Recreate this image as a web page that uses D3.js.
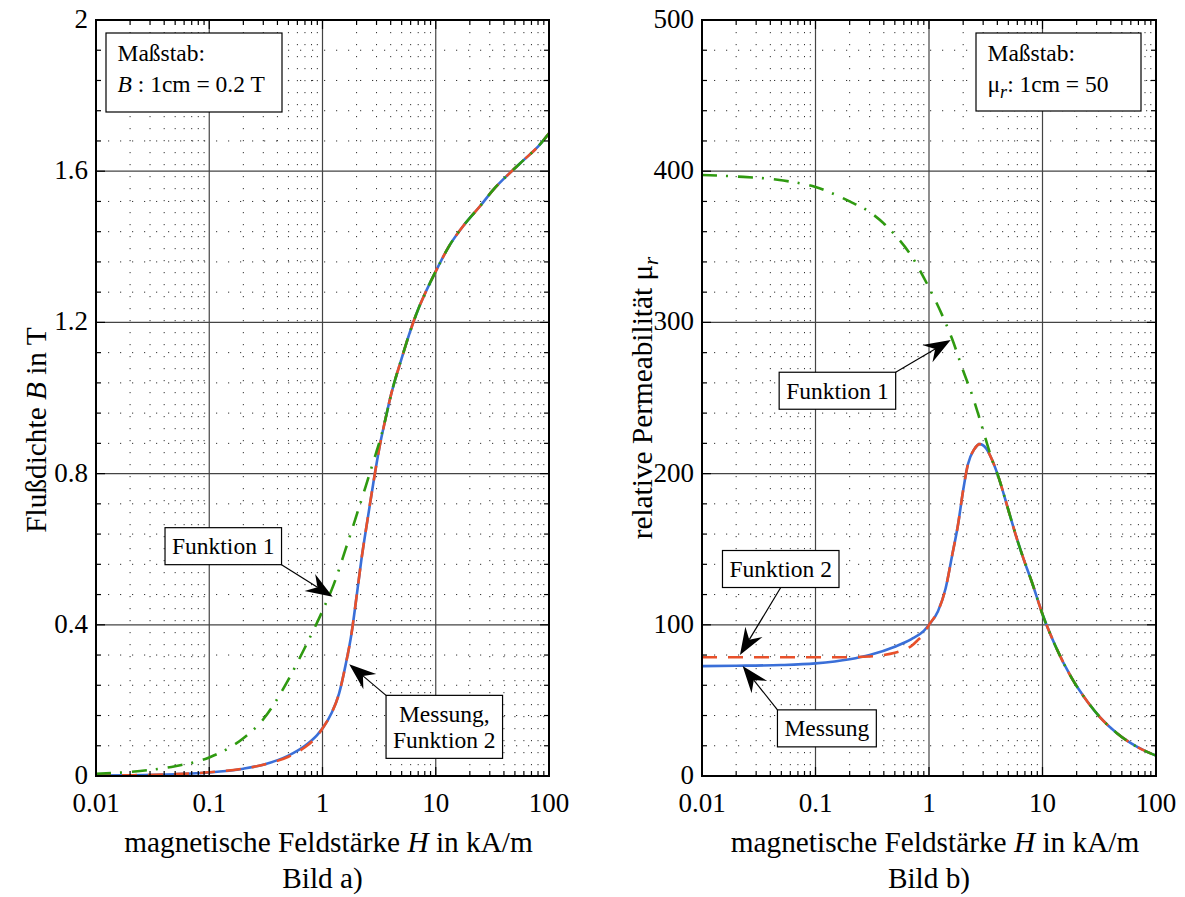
<!DOCTYPE html>
<html>
<head>
<meta charset="utf-8">
<script src="https://cdn.jsdelivr.net/npm/d3@7"></script>
<style>
  body { margin: 0; background: #fff; }
  svg text { font-family: 'Liberation Serif', 'Times New Roman', Tinos, 'Nimbus Roman', 'DejaVu Serif', serif; fill: #000; }
</style>
</head>
<body>
<svg width="1185" height="897" font-family="Liberation Serif, DejaVu Serif, serif"></svg>
<script>
// ---- data ----
const hTicks = [0.01, 0.1, 1, 10, 100];
const bTicks = [0, 0.4, 0.8, 1.2, 1.6, 2];
const muTicks = [0, 100, 200, 300, 400, 500];

// Messung (measured)
const hMess = [0.01, 0.02, 0.05, 0.1, 0.2, 0.3, 0.5, 0.7, 0.9, 1, 1.2, 1.4, 1.6, 1.8, 2, 2.2, 2.5, 2.8, 3.2, 3.6,
               4, 5, 6, 7, 8, 10, 13, 18, 25, 32, 45, 60, 80, 100];
const bMess = [0.001, 0.0018, 0.0046, 0.0094, 0.0194, 0.030, 0.054, 0.080, 0.109, 0.126, 0.166, 0.218, 0.294, 0.375,
               0.475, 0.570, 0.679, 0.772, 0.873, 0.945, 1.005, 1.105, 1.180, 1.235, 1.275, 1.335, 1.400, 1.460,
               1.510, 1.550, 1.595, 1.630, 1.665, 1.700];
const muMess = [72.7, 72.9, 73.4, 74.5, 77.2, 80, 85.5, 90.5, 96, 100, 109, 124, 146, 166, 189, 206, 216, 219.5,
                216.5, 209, 200, 176, 156, 141, 129, 107, 86, 65, 49, 39, 28.5, 21.7, 16.6, 13.5];

// Funktion 2
const hF2 = [0.01, 0.02, 0.05, 0.1, 0.2, 0.3, 0.4, 0.5, 0.6, 0.7, 0.8, 0.9, 1, 1.2, 1.4, 1.6, 1.8, 2, 2.2, 2.5,
             2.8, 3.2, 3.6, 4, 5, 6, 7, 8, 10, 13, 18, 25, 32, 45, 60, 80, 100];
const bF2 = [0.001, 0.002, 0.0049, 0.0099, 0.0198, 0.0296, 0.040, 0.051, 0.063, 0.076, 0.090, 0.106, 0.126,
             0.166, 0.218, 0.294, 0.375, 0.475, 0.570, 0.679, 0.772, 0.873, 0.945, 1.005, 1.105, 1.180, 1.235,
             1.275, 1.335, 1.400, 1.460, 1.510, 1.550, 1.595, 1.630, 1.665, 1.700];
const muF2 = [78.5, 78.5, 78.5, 78.5, 78.6, 79, 80, 81.5, 83.5, 86, 90, 94, 100, 109, 124, 146, 166, 189, 206,
              216, 219.5, 216.5, 209, 200, 176, 156, 141, 129, 107, 86, 65, 49, 39, 28.5, 21.7, 16.6, 13.5];

// Funktion 1
const hF1 = [0.01, 0.02, 0.05, 0.1, 0.2, 0.3, 0.5, 0.7, 1, 1.25, 1.6, 2, 2.4, 2.8, 3.3, 3.6,
             4, 5, 6, 7, 8, 10, 13, 18, 25, 32, 45, 60, 80, 100];
const bF1 = [0.006, 0.011, 0.026, 0.049, 0.100, 0.150, 0.255, 0.340, 0.437, 0.505, 0.600, 0.690, 0.765, 0.830,
             0.900, 0.945, 1.005, 1.105, 1.180, 1.235, 1.275, 1.335, 1.400, 1.460, 1.510, 1.550, 1.595, 1.630,
             1.665, 1.700];
const muF1 = [397.5, 396.5, 394, 389.5, 380, 373, 358, 344, 323, 308, 289, 268, 252, 236, 218, 209,
              200, 176, 156, 141, 129, 107, 86, 65, 49, 39, 28.5, 21.7, 16.6, 13.5];

const svg = d3.select("svg");
const plotTop = 20, plotBottom = 776;

const styles = {
  mess: { color: "#3a6fd8", dash: null },
  f2:   { color: "#e8502a", dash: "15,11" },
  f1:   { color: "#2f9a10", dash: "15,9,2,10" }
};

const panels = [
  {
    left: 96, right: 549, yDomain: [0, 2], yTicks: bTicks, yMinor: d3.range(0, 2.0001, 0.08),
    ylabel: [["Flußdichte ", false], ["B", true], [" in T", false]], ylabelY: 430,
    bild: "Bild a)",
    series: [
      { h: hMess, v: bMess, s: styles.mess },
      { h: hF2, v: bF2, s: styles.f2 },
      { h: hF1, v: bF1, s: styles.f1 }
    ],
    notes: [
      { lines: ["Funktion 1"], h: 0.133, v: 0.608, tipH: 1.23, tipV: 0.474, from: "br" },
      { lines: ["Messung,", "Funktion 2"], h: 11.9, v: 0.13, tipH: 1.72, tipV: 0.2955, from: "tl" }
    ],
    scale: { x: 10, w: 176, h: 79, sym: "B" , rest: " : 1cm = 0.2 T" }
  },
  {
    left: 702, right: 1156, yDomain: [0, 500], yTicks: muTicks, yMinor: d3.range(0, 500.01, 20),
    ylabel: [["relative Permeabilität μ", false], ["r", "sub"]], ylabelY: 398,
    bild: "Bild b)",
    series: [
      { h: hMess, v: muMess, s: styles.mess },
      { h: hF2, v: muF2, s: styles.f2 },
      { h: hF1, v: muF1, s: styles.f1 }
    ],
    notes: [
      { lines: ["Funktion 1"], h: 0.156, v: 254.8, tipH: 1.553, tipV: 288.4, from: "tr" },
      { lines: ["Funktion 2"], h: 0.0494, v: 136.9, tipH: 0.0216, tipV: 80, from: "bm" },
      { lines: ["Messung"], h: 0.126, v: 31.5, tipH: 0.0228, tipV: 72.75, from: "tl" }
    ],
    scale: { x: 274, w: 165, h: 78, sym: "μ", rest: ": 1cm = 50" }
  }
];

function arrow(g, x0, y0, x1, y1) {
  const dx = x1 - x0, dy = y1 - y0;
  const len = Math.sqrt(dx * dx + dy * dy);
  const ux = dx / len, uy = dy / len;
  const px = -uy, py = ux;
  g.append("line")
    .attr("x1", x0).attr("y1", y0)
    .attr("x2", x1 - ux * 18).attr("y2", y1 - uy * 18)
    .attr("stroke", "#000").attr("stroke-width", 1.2);
  const pts = [
    [x1, y1],
    [x1 - ux * 27 + px * 10, y1 - uy * 27 + py * 10],
    [x1 - ux * 18, y1 - uy * 18],
    [x1 - ux * 27 - px * 10, y1 - uy * 27 - py * 10]
  ];
  g.append("polygon").attr("points", pts.map(p => p.join(",")).join(" ")).attr("fill", "#000");
}

panels.forEach((p, pi) => {
  const x = d3.scaleLog().domain([0.01, 100]).range([p.left, p.right]);
  const y = d3.scaleLinear().domain(p.yDomain).range([plotBottom, plotTop]);
  const g = svg.append("g");

  const minorH = [];
  [0.01, 0.1, 1, 10].forEach(d => { for (let k = 2; k <= 9; k++) minorH.push(k * d); });
  const minorV = p.yMinor.filter(v => !p.yTicks.some(t => Math.abs(t - v) < 1e-6));

  // minor grid (dotted)
  g.selectAll(".mgx").data(minorH).enter().append("line")
    .attr("x1", d => x(d)).attr("x2", d => x(d)).attr("y1", plotTop).attr("y2", plotBottom)
    .attr("stroke", "#333").attr("stroke-width", 1).attr("stroke-dasharray", "1.2,10.8");
  g.selectAll(".mgy").data(minorV).enter().append("line")
    .attr("x1", p.left).attr("x2", p.right).attr("y1", d => y(d)).attr("y2", d => y(d))
    .attr("stroke", "#333").attr("stroke-width", 1).attr("stroke-dasharray", "1.2,10.8");

  // major grid
  g.selectAll(".gx").data(hTicks).enter().append("line")
    .attr("x1", d => x(d)).attr("x2", d => x(d)).attr("y1", plotTop).attr("y2", plotBottom)
    .attr("stroke", "#444").attr("stroke-width", 1.2);
  g.selectAll(".gy").data(p.yTicks).enter().append("line")
    .attr("x1", p.left).attr("x2", p.right).attr("y1", d => y(d)).attr("y2", d => y(d))
    .attr("stroke", "#444").attr("stroke-width", 1.2);

  // curves
  const clipId = "clip" + pi;
  svg.append("clipPath").attr("id", clipId).append("rect")
    .attr("x", p.left).attr("y", plotTop).attr("width", p.right - p.left).attr("height", plotBottom - plotTop);
  const line = d3.line().x(d => x(d[0])).y(d => y(d[1])).curve(d3.curveMonotoneX);
  p.series.forEach(s => {
    g.append("path")
      .datum(s.h.map((h, i) => [h, s.v[i]]))
      .attr("clip-path", `url(#${clipId})`)
      .attr("d", line)
      .attr("fill", "none")
      .attr("stroke", s.s.color)
      .attr("stroke-width", 2.6)
      .attr("stroke-dasharray", s.s.dash);
  });

  // ticks (inward, all sides)
  const tk = [];
  hTicks.forEach(d => tk.push([x(d), plotBottom, 0, -9], [x(d), plotTop, 0, 9]));
  minorH.forEach(d => tk.push([x(d), plotBottom, 0, -5], [x(d), plotTop, 0, 5]));
  p.yTicks.forEach(d => tk.push([p.left, y(d), 9, 0], [p.right, y(d), -9, 0]));
  minorV.forEach(d => tk.push([p.left, y(d), 5, 0], [p.right, y(d), -5, 0]));
  g.selectAll(".tk").data(tk).enter().append("line")
    .attr("x1", d => d[0]).attr("y1", d => d[1]).attr("x2", d => d[0] + d[2]).attr("y2", d => d[1] + d[3])
    .attr("stroke", "#000").attr("stroke-width", 1.2);

  // frame
  g.append("rect").attr("x", p.left).attr("y", plotTop)
    .attr("width", p.right - p.left).attr("height", plotBottom - plotTop)
    .attr("fill", "none").attr("stroke", "#000").attr("stroke-width", 2);

  // tick labels
  g.selectAll(".xl").data(hTicks).enter().append("text")
    .attr("x", d => x(d)).attr("y", 812).attr("text-anchor", "middle")
    .attr("font-size", 27).text(d => String(d));
  g.selectAll(".yl").data(p.yTicks).enter().append("text")
    .attr("x", p.left - 8).attr("y", d => y(d) + 8).attr("text-anchor", "end")
    .attr("font-size", 27).text(d => String(d));

  // axis labels
  const cx = (p.left + p.right) / 2;
  const xl = g.append("text").attr("x", cx + 6).attr("y", 852).attr("text-anchor", "middle").attr("font-size", 29.3);
  xl.append("tspan").text("magnetische Feldstärke ");
  xl.append("tspan").attr("font-style", "italic").text("H");
  xl.append("tspan").text(" in kA/m");
  g.append("text").attr("x", cx).attr("y", 888).attr("text-anchor", "middle").attr("font-size", 29.3).text(p.bild);

  const yl = g.append("text")
    .attr("transform", `translate(${p.left - 50},${p.ylabelY}) rotate(-90)`)
    .attr("text-anchor", "middle").attr("font-size", 29.3);
  p.ylabel.forEach(([t, st]) => {
    const ts = yl.append("tspan").text(t);
    if (st === true) ts.attr("font-style", "italic");
    if (st === "sub") ts.attr("font-style", "italic").attr("font-size", 21).attr("dy", 6);
  });

  // scale box (Maßstab)
  const sb = p.scale;
  const bx = p.left + sb.x, by = 33;
  g.append("rect").attr("x", bx).attr("y", by).attr("width", sb.w).attr("height", sb.h)
    .attr("fill", "#fff").attr("stroke", "#000").attr("stroke-width", 1.2);
  g.append("text").attr("x", bx + 11.5).attr("y", by + 28).attr("font-size", 23.5).text("Maßstab:");
  const st = g.append("text").attr("x", bx + 11.5).attr("y", by + 58.5).attr("font-size", 23.5);
  if (sb.sym === "B") {
    st.append("tspan").attr("font-style", "italic").text("B");
    st.append("tspan").text(sb.rest);
  } else {
    st.append("tspan").text("μ");
    st.append("tspan").attr("font-style", "italic").attr("font-size", 18).attr("dy", 6).text("r");
    st.append("tspan").attr("dy", -6).text(sb.rest);
  }

  // annotations
  p.notes.forEach(n => {
    const ng = g.append("g");
    const cxn = x(n.h), cyn = y(n.v);
    const texts = n.lines.map((t, i) => ng.append("text")
      .attr("x", cxn).attr("y", cyn + 8 + (i - (n.lines.length - 1) / 2) * 26)
      .attr("text-anchor", "middle").attr("font-size", 23.5).text(t));
    const w = d3.max(texts, t => t.node().getComputedTextLength()) + 14;
    const hgt = n.lines.length * 26 + 11;
    const x0 = cxn - w / 2, y0 = cyn - hgt / 2;
    ng.insert("rect", "text").attr("x", x0).attr("y", y0).attr("width", w).attr("height", hgt)
      .attr("fill", "#fff").attr("stroke", "#000").attr("stroke-width", 1.2);
    const start = {
      br: [x0 + w, y0 + hgt], tl: [x0, y0], tr: [x0 + w, y0], bm: [cxn, y0 + hgt]
    }[n.from];
    arrow(ng, start[0], start[1], x(n.tipH), y(n.tipV));
  });
});
</script>
</body>
</html>
